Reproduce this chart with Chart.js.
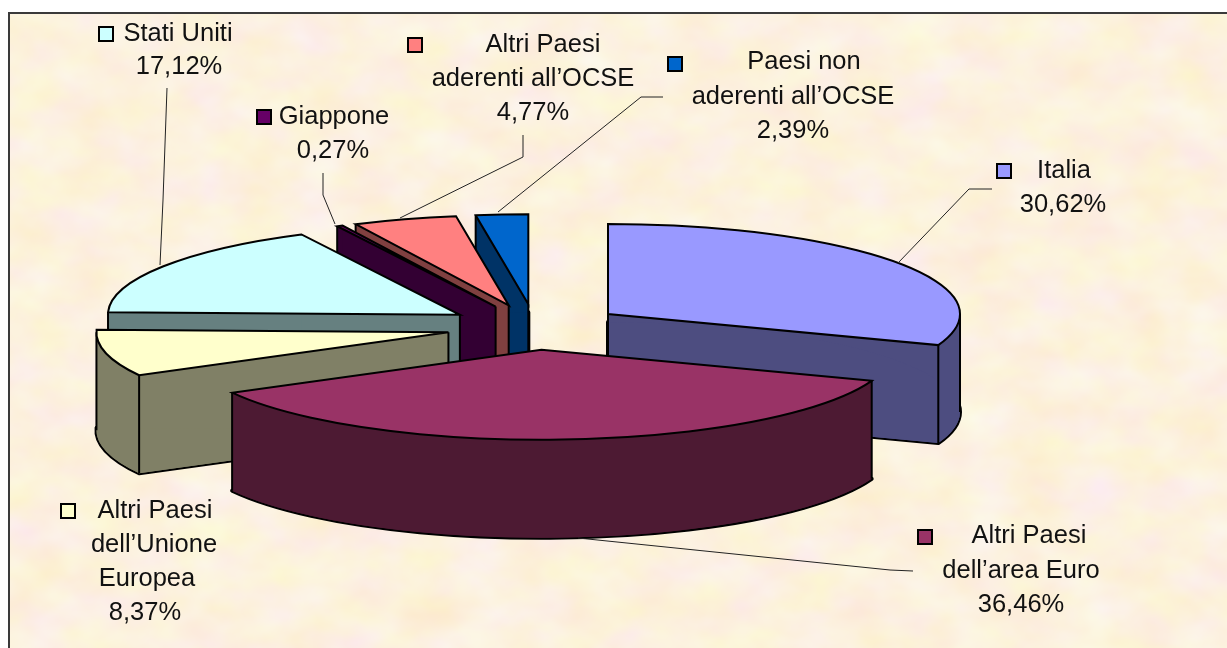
<!DOCTYPE html>
<html lang="it">
<head>
<meta charset="utf-8">
<title>Ripartizione per area geografica</title>
<script src="https://cdn.jsdelivr.net/npm/chart.js@4"></script>
<style>
  html, body { margin: 0; padding: 0; background: #fff; overflow: hidden; }
  #frame {
    position: absolute; left: 8px; top: 12px; width: 1219px; height: 636px;
    box-sizing: border-box;
    border-left: 2px solid #3a3a3a; border-top: 2px solid #3a3a3a;
    background-color: #fbf1dc;
    background-image: url("data:image/svg+xml;utf8,<svg xmlns='http://www.w3.org/2000/svg' width='1219' height='636'><filter id='n' x='0' y='0' width='100%' height='100%' color-interpolation-filters='sRGB'><feTurbulence type='fractalNoise' baseFrequency='.018 .026' numOctaves='3' seed='7'/><feColorMatrix values='0 0 0 0 .988  .08 0 0 0 .905  0 .16 0 0 .79  0 0 0 0 1'/></filter><rect width='1219' height='636' filter='url(%23n)'/></svg>");
  }
  canvas { position: absolute; left: 0; top: 0; }
</style>
</head>
<body>
<div id="frame"></div>
<canvas id="chart" width="1227" height="648"></canvas>
<script>
const categories = ['Italia', "Altri Paesi dell'area Euro", "Altri Paesi dell'Unione Europea", 'Stati Uniti', 'Giappone', "Altri Paesi aderenti all'OCSE", "Paesi non aderenti all'OCSE"];
const values = [30.62, 36.46, 8.37, 17.12, 0.27, 4.77, 2.39];
const topColors = ['#9999ff', '#993366', '#ffffcc', '#ccffff', '#660066', '#ff8080', '#0066cc'];
const sideColors = ['#4d4d80', '#4d1a33', '#808066', '#668080', '#330033', '#804040', '#003366'];

// back to front
const drawOrder = [6, 5, 4, 3, 0, 2, 1];

const SQUASH = 0.2557;
const DEPTH = 98;
const EXPLODE = 89;

// text lines, markers and leader lines of each label, same order as categories
const labels = [
  { marker: [997, 164], lines: [['Italia', 1064, 178]], pct: [1063, 212], leader: [[992, 189], [969, 189], [898, 263]] },
  { marker: [918, 530], lines: [['Altri Paesi', 1029, 543], ['dell’area Euro', 1021, 578]], pct: [1021, 612], leader: [[913, 571], [890, 570], [578, 538]] },
  { marker: [61, 504], lines: [['Altri Paesi', 155, 518], ['dell’Unione', 154, 552], ['Europea', 147, 586]], pct: [145, 620], leader: null },
  { marker: [99, 27], lines: [['Stati Uniti', 178, 41]], pct: [179, 74], leader: [[167, 88], [163, 200], [160, 265]] },
  { marker: [257, 110], lines: [['Giappone', 334, 124]], pct: [333, 158], leader: [[323, 173], [323, 195], [335, 224]] },
  { marker: [408, 38], lines: [['Altri Paesi', 543, 52], ['aderenti all’OCSE', 533, 86]], pct: [533, 120], leader: [[523, 135], [523, 157], [400, 218]] },
  { marker: [668, 57], lines: [['Paesi non', 804, 69], ['aderenti all’OCSE', 793, 104]], pct: [793, 138], leader: [[663, 97], [641, 97], [498, 212]] }
];

function sliceOrigin(arc) {
  const mid = (arc.startAngle + arc.endAngle) / 2;
  return {
    x: arc.x + Math.cos(mid) * EXPLODE,
    y: arc.y + Math.sin(mid) * EXPLODE * SQUASH
  };
}

function rimPoint(arc, a) {
  const o = sliceOrigin(arc);
  return {
    x: o.x + Math.cos(a) * arc.outerRadius,
    y: o.y + Math.sin(a) * arc.outerRadius * SQUASH
  };
}

function paintLayer(ctx, arc, color, dz) {
  const o = sliceOrigin(arc);
  const base = arc.options;
  arc.options = Object.assign({}, base, { backgroundColor: color, borderWidth: 0 });
  ctx.save();
  ctx.translate(o.x, o.y + dz);
  ctx.scale(1, SQUASH);
  ctx.translate(-arc.x, -arc.y);
  arc.draw(ctx);
  ctx.restore();
  arc.options = base;
}

function outline(ctx, arc, dz) {
  const o = sliceOrigin(arc);
  const r = arc.outerRadius;
  ctx.beginPath();
  ctx.moveTo(o.x, o.y + dz);
  ctx.ellipse(o.x, o.y + dz, r, r * SQUASH, 0, arc.startAngle, arc.endAngle);
  ctx.closePath();
  ctx.stroke();
}

function contains(arc, angle) {
  for (let a = angle - 2 * Math.PI; a <= arc.endAngle; a += 2 * Math.PI) {
    if (a >= arc.startAngle && a <= arc.endAngle) return true;
  }
  return false;
}

function paintSides(ctx, arc) {
  const o = sliceOrigin(arc);
  const r = arc.outerRadius;
  [arc.startAngle, arc.endAngle].forEach(a => {
    const p = rimPoint(arc, a);
    ctx.beginPath();
    ctx.moveTo(o.x, o.y);
    ctx.lineTo(p.x, p.y);
    ctx.lineTo(p.x, p.y + DEPTH);
    ctx.lineTo(o.x, o.y + DEPTH);
    ctx.closePath();
    ctx.fill();
  });
  // cut the rim band where the ellipse turns back, or the fill cancels itself
  const cuts = [arc.startAngle];
  [-Math.PI, 0, Math.PI].forEach(a => { if (a > arc.startAngle && a < arc.endAngle) cuts.push(a); });
  cuts.push(arc.endAngle);
  for (let i = 0; i < cuts.length - 1; i++) {
    ctx.beginPath();
    ctx.ellipse(o.x, o.y, r, r * SQUASH, 0, cuts[i], cuts[i + 1]);
    ctx.ellipse(o.x, o.y + DEPTH, r, r * SQUASH, 0, cuts[i + 1], cuts[i], true);
    ctx.closePath();
    ctx.fill();
  }
}

// a rim corner only shows its edge when the slice top does not sit right below it
function cornerShows(arc, a) {
  const x = Math.cos(a) * arc.outerRadius;
  const y = Math.sin(a) * arc.outerRadius + 6;
  return Math.hypot(x, y) > arc.outerRadius || !contains(arc, Math.atan2(y, x));
}

function verticals(ctx, arc) {
  const o = sliceOrigin(arc);
  const rimAngles = [arc.startAngle, arc.endAngle].filter(a => cornerShows(arc, a));
  if (contains(arc, 0)) rimAngles.push(0);
  if (contains(arc, Math.PI)) rimAngles.push(Math.PI);
  ctx.beginPath();
  rimAngles.forEach(a => {
    const p = rimPoint(arc, a);
    ctx.moveTo(p.x, p.y);
    ctx.lineTo(p.x, p.y + DEPTH);
  });
  if (!contains(arc, Math.PI / 2)) {
    ctx.moveTo(o.x, o.y);
    ctx.lineTo(o.x, o.y + DEPTH);
  }
  ctx.stroke();
}

const pie3d = {
  id: 'pie3d',
  beforeDatasetDraw(chart) {
    const ctx = chart.ctx;
    const arcs = chart.getDatasetMeta(0).data;
    ctx.save();
    ctx.strokeStyle = '#000';
    drawOrder.forEach(i => {
      const arc = arcs[i];
      ctx.lineJoin = 'round';
      ctx.lineWidth = 4;
      outline(ctx, arc, DEPTH);
      paintLayer(ctx, arc, sideColors[i], DEPTH);
      ctx.fillStyle = sideColors[i];
      paintSides(ctx, arc);
      ctx.lineWidth = 2;
      verticals(ctx, arc);
      paintLayer(ctx, arc, topColors[i], 0);
      ctx.lineJoin = 'miter';
      outline(ctx, arc, 0);
    });
    ctx.restore();
    return false;
  },
  afterDraw(chart) {
    const ctx = chart.ctx;
    ctx.save();
    ctx.font = '25.5px "Liberation Sans", Arial, sans-serif';
    ctx.textAlign = 'center';
    ctx.textBaseline = 'alphabetic';
    labels.forEach((l, i) => {
      if (l.leader) {
        ctx.strokeStyle = '#222';
        ctx.lineWidth = 1;
        ctx.beginPath();
        l.leader.forEach((p, k) => k ? ctx.lineTo(p[0], p[1]) : ctx.moveTo(p[0], p[1]));
        ctx.stroke();
      }
      ctx.fillStyle = topColors[i];
      ctx.fillRect(l.marker[0], l.marker[1], 14, 14);
      ctx.strokeStyle = '#000';
      ctx.lineWidth = 2;
      ctx.strokeRect(l.marker[0], l.marker[1], 14, 14);
      ctx.fillStyle = '#111';
      l.lines.forEach(t => ctx.fillText(t[0], t[1], t[2]));
      ctx.fillText(values[i].toFixed(2).replace('.', ',') + '%', l.pct[0], l.pct[1]);
    });
    ctx.restore();
  }
};

new Chart(document.getElementById('chart'), {
  type: 'pie',
  data: {
    labels: categories,
    datasets: [{ data: values, backgroundColor: topColors, borderWidth: 0 }]
  },
  options: {
    responsive: false,
    animation: false,
    radius: 352,
    rotation: 0,
    layout: { padding: { right: 157, top: 6 } },
    plugins: { legend: { display: false }, tooltip: { enabled: false } }
  },
  plugins: [pie3d]
});
</script>
</body>
</html>
